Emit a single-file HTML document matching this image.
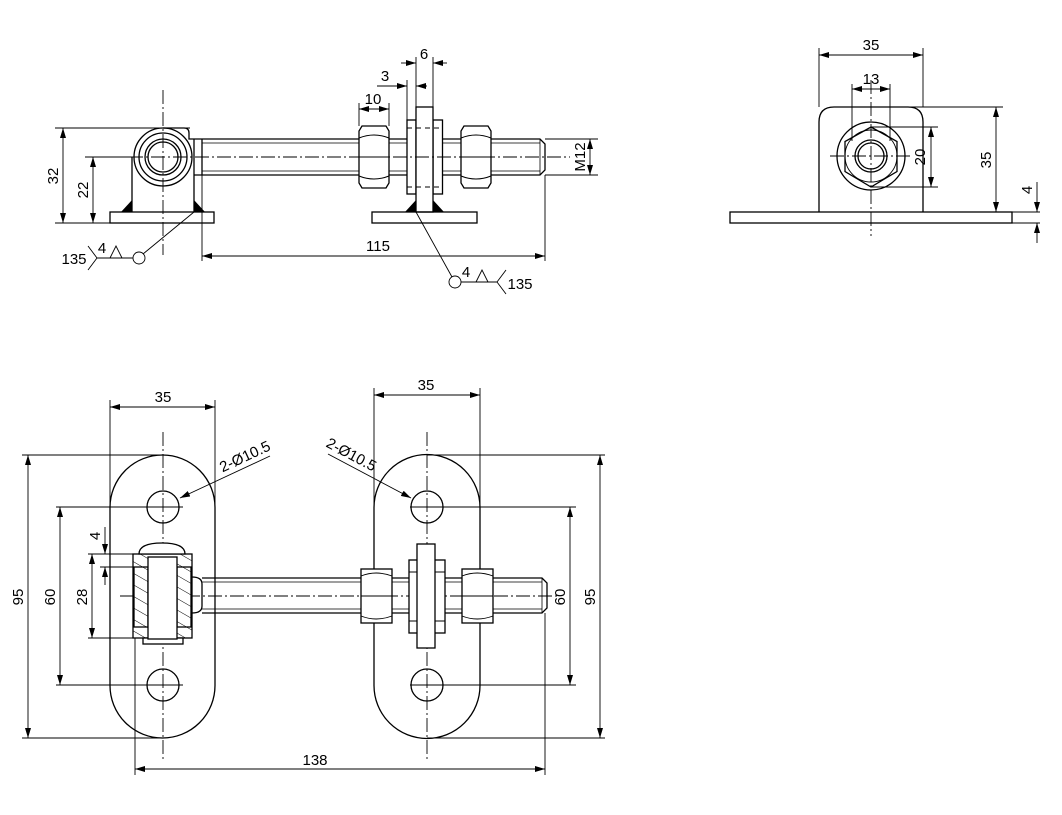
<!DOCTYPE html>
<html><head><meta charset="utf-8"><style>
html,body{margin:0;padding:0;background:#fff}
svg{display:block}
text{font-family:"Liberation Sans Narrow","Liberation Sans",sans-serif;font-size:15px;fill:#000}
</style></head><body>
<svg width="1062" height="815" viewBox="0 0 1062 815" xmlns="http://www.w3.org/2000/svg">
<defs>
<marker id="a" viewBox="0 0 10 6" refX="10" refY="3" markerWidth="10" markerHeight="6" orient="auto-start-reverse" markerUnits="userSpaceOnUse"><path d="M0,0 L10,3 L0,6 z" fill="#000"/></marker>
<pattern id="h" width="10" height="10" patternUnits="userSpaceOnUse" patternTransform="rotate(-60)"><line x1="0" y1="0" x2="0" y2="10" stroke="#000" stroke-width="1"/></pattern>
</defs>
<g fill="none" stroke="#000" stroke-width="1.3">
<rect x="110" y="212" width="104" height="11"/>
<path d="M132,212 V157 M194,212 V139 M163,128 H184 Q189,128 189,133 V139 H194"/>
<circle cx="163" cy="157" r="29"/><circle cx="163" cy="157" r="24"/>
<circle cx="163" cy="157" r="18"/><circle cx="163" cy="157" r="15"/>
<path d="M194,139 H202 M194,175 H202 M202,139 V175"/>
<path d="M202,139 H540 L545,144 V170 L540,175 H202"/>
<path d="M202,143 H540 M202,171 H540" stroke-width="0.8"/>
<line x1="540" y1="139" x2="540" y2="175" stroke-width="0.8"/>
<g fill="#fff">
<path d="M362,126 H386 L389,131 V183 L386,188 H362 L359,183 V131 Z"/>
<path d="M464,126 H488 L491,131 V183 L488,188 H464 L461,183 V131 Z"/>
</g>
<path d="M359,138 Q374,132 389,138 M359,176 Q374,182 389,176 M359,157 H389 M461,138 Q476,132 491,138 M461,176 Q476,182 491,176 M461,157 H491" stroke-width="1"/>
<rect x="407" y="120" width="9" height="74" fill="#fff"/>
<rect x="433" y="120" width="9.5" height="74" fill="#fff"/>
<rect x="416" y="107" width="17" height="105" fill="#fff"/>
<path d="M407,128 H442 M407,187 H442" stroke-dasharray="5,4" stroke-width="1"/>
<rect x="372" y="212" width="105" height="11"/>
<g fill="#000" stroke="none">
<path d="M121,212 L132,200 V212 Z"/><path d="M194,200 L205,212 H194 Z"/>
<path d="M405,212 L416,200 V212 Z"/><path d="M433,200 L444,212 H433 Z"/>
</g>
</g>
<g stroke="#000" stroke-width="0.9" stroke-dasharray="14,3,2,3" fill="none">
<line x1="85" y1="157" x2="570" y2="157"/>
<line x1="163" y1="90" x2="163" y2="255"/>
<line x1="830" y1="156" x2="912" y2="156"/>
<line x1="871" y1="80" x2="871" y2="236"/>
<line x1="163" y1="432" x2="163" y2="760"/>
<line x1="427" y1="432" x2="427" y2="760"/>
<line x1="120" y1="596" x2="560" y2="596"/>
</g>
<g stroke="#000" stroke-width="0.9" fill="none">
<path d="M55,128 H190 M85,157 H135 M55,223 H110"/>
<line x1="63" y1="128" x2="63" y2="223" marker-start="url(#a)" marker-end="url(#a)"/>
<line x1="93" y1="157" x2="93" y2="223" marker-start="url(#a)" marker-end="url(#a)"/>
<path d="M545,139 H598 M545,175 H598"/>
<line x1="590" y1="139" x2="590" y2="175" marker-start="url(#a)" marker-end="url(#a)"/>
<path d="M202,175 V261 M545,175 V261"/>
<line x1="202" y1="256" x2="545" y2="256" marker-start="url(#a)" marker-end="url(#a)"/>
<path d="M359,126 V103 M389,126 V103"/>
<line x1="359" y1="109" x2="389" y2="109" marker-start="url(#a)" marker-end="url(#a)"/>
<path d="M407,120 V80 M416,107 V57 M433,107 V57"/>
<line x1="377" y1="86" x2="407" y2="86" marker-end="url(#a)"/>
<line x1="427" y1="86" x2="416" y2="86" marker-end="url(#a)"/>
<line x1="401" y1="63" x2="416" y2="63" marker-end="url(#a)"/>
<line x1="447" y1="63" x2="433" y2="63" marker-end="url(#a)"/>
<circle cx="139" cy="258" r="6"/>
<path d="M143,254 L194,212 M97,258 H133 M110,258 L116,246 L122,258 M97,258 L88,246 M97,258 L88,270"/>
<circle cx="455" cy="282" r="6"/>
<path d="M452,277 L416,212 M461,282 H497 M476,282 L482,270 L488,282 M497,282 L506,270 M497,282 L506,294"/>
</g>
<g text-anchor="middle">
<text x="378" y="251">115</text>
<text x="373" y="104">10</text>
<text x="385" y="81">3</text>
<text x="424" y="59">6</text>
<text x="74" y="264">135</text>
<text x="102" y="253">4</text>
<text x="520" y="289">135</text>
<text x="466" y="277">4</text>
<text transform="translate(58,176) rotate(-90)">32</text>
<text transform="translate(88,190) rotate(-90)">22</text>
<text transform="translate(585,157) rotate(-90)">M12</text>
</g>
<g fill="none" stroke="#000" stroke-width="1.3">
<rect x="730" y="212" width="282" height="11"/>
<path d="M819,212 V122 Q819,107 834,107 H908 Q923,107 923,122 V212"/>
<circle cx="871" cy="156" r="34"/>
<polygon points="871,127 897,141.5 897,171.5 871,187 845,171.5 845,141.5"/>
<circle cx="871" cy="156" r="26" stroke-width="0.9"/>
<circle cx="871" cy="156" r="16"/><circle cx="871" cy="156" r="13"/>
</g>
<g stroke="#000" stroke-width="0.9" fill="none">
<path d="M819,107 V48 M923,107 V48"/>
<line x1="819" y1="55" x2="923" y2="55" marker-start="url(#a)" marker-end="url(#a)"/>
<path d="M852,141 V84 M890,141 V84"/>
<line x1="852" y1="89" x2="890" y2="89" marker-start="url(#a)" marker-end="url(#a)"/>
<path d="M871,127 H938 M871,187 H938"/>
<line x1="931" y1="127" x2="931" y2="187" marker-start="url(#a)" marker-end="url(#a)"/>
<path d="M908,107 H1003 M1012,212 H1040 M1012,223 H1040"/>
<line x1="996" y1="107" x2="996" y2="212" marker-start="url(#a)" marker-end="url(#a)"/>
<line x1="1037" y1="182" x2="1037" y2="212" marker-end="url(#a)"/>
<line x1="1037" y1="243" x2="1037" y2="223" marker-end="url(#a)"/>
</g>
<g text-anchor="middle">
<text x="871" y="50">35</text>
<text x="871" y="84">13</text>
<text transform="translate(925,157) rotate(-90)">20</text>
<text transform="translate(991,160) rotate(-90)">35</text>
<text transform="translate(1032,190) rotate(-90)">4</text>
</g>
<g fill="none" stroke="#000" stroke-width="1.3">
<path d="M110,507.5 A52.5,52.5 0 0 1 215,507.5 V685.5 A52.5,52.5 0 0 1 110,685.5 Z"/>
<path d="M374,507.5 A53,53 0 0 1 480,507.5 V685.5 A53,53 0 0 1 374,685.5 Z"/>
<circle cx="163" cy="507" r="16"/><circle cx="163" cy="685" r="16"/>
<circle cx="427" cy="507" r="16"/><circle cx="427" cy="685" r="16"/>
<rect x="133" y="554" width="59" height="84" fill="#fff"/>
<rect x="133" y="554" width="15" height="84" fill="url(#h)" stroke="none"/>
<rect x="177" y="554" width="15" height="84" fill="url(#h)" stroke="none"/>
<rect x="134" y="567" width="14" height="60"/>
<rect x="177" y="567" width="14" height="60"/>
<path d="M139,554 Q139,543 162,543 Q185,543 185,554 Z" fill="#fff"/>
<rect x="143" y="638" width="40" height="6" fill="#fff"/>
<rect x="148" y="557" width="29" height="82" fill="#fff"/>
<path d="M192,577 Q202,577 202,584 V606 Q202,613 192,613"/>
<path d="M202,578 H542 L547,583 V608 L542,613 H202"/>
<path d="M202,582 H542 M202,609 H542" stroke-width="0.8"/>
<line x1="542" y1="578" x2="542" y2="613" stroke-width="0.8"/>
<g fill="#fff">
<rect x="361" y="569" width="31" height="54"/>
<rect x="462" y="569" width="31" height="54"/>
<rect x="409" y="560" width="36" height="73"/>
<rect x="417" y="544" width="18" height="104"/>
</g>
<path d="M361,596 H392 M462,596 H493 M361,576 Q376,570 392,576 M361,616 Q376,622 392,616 M462,576 Q477,570 493,576 M462,616 Q477,622 493,616 M409,572 H417 M435,572 H445 M409,621 H417 M435,621 H445" stroke-width="0.9"/>
</g>
<g stroke="#000" stroke-width="0.9" fill="none">
<path d="M110,507 V400 M215,507 V400 M374,507 V388 M480,507 V388"/>
<line x1="110" y1="407" x2="215" y2="407" marker-start="url(#a)" marker-end="url(#a)"/>
<line x1="374" y1="395" x2="480" y2="395" marker-start="url(#a)" marker-end="url(#a)"/>
<path d="M22,455 H163 M22,738 H163 M427,455 H605 M427,738 H605"/>
<line x1="28" y1="455" x2="28" y2="738" marker-start="url(#a)" marker-end="url(#a)"/>
<line x1="600" y1="455" x2="600" y2="738" marker-start="url(#a)" marker-end="url(#a)"/>
<path d="M56,507 H183 M56,685 H183 M410,507 H576 M410,685 H576"/>
<line x1="60" y1="507" x2="60" y2="685" marker-start="url(#a)" marker-end="url(#a)"/>
<line x1="570" y1="507" x2="570" y2="685" marker-start="url(#a)" marker-end="url(#a)"/>
<path d="M88,554 H133 M88,638 H133 M100,567 H148"/>
<line x1="92" y1="554" x2="92" y2="638" marker-start="url(#a)" marker-end="url(#a)"/>
<line x1="105" y1="527" x2="105" y2="554" marker-end="url(#a)"/>
<line x1="105" y1="585" x2="105" y2="567" marker-end="url(#a)"/>
<path d="M135,638 V775 M545,613 V775"/>
<line x1="135" y1="769" x2="545" y2="769" marker-start="url(#a)" marker-end="url(#a)"/>
<line x1="270" y1="456" x2="180" y2="498" marker-end="url(#a)"/>
<line x1="328" y1="454" x2="411" y2="498" marker-end="url(#a)"/>
</g>
<g text-anchor="middle">
<text x="163" y="402">35</text>
<text x="426" y="390">35</text>
<text x="315" y="765">138</text>
<text transform="translate(23,597) rotate(-90)">95</text>
<text transform="translate(55,597) rotate(-90)">60</text>
<text transform="translate(87,597) rotate(-90)">28</text>
<text transform="translate(100,536) rotate(-90)">4</text>
<text transform="translate(565,597) rotate(-90)">60</text>
<text transform="translate(595,597) rotate(-90)">95</text>
<text transform="translate(247,461) rotate(-25)" font-size="13">2-Ø10.5</text>
<text transform="translate(349,459) rotate(28)" font-size="13">2-Ø10.5</text>
</g>
</svg>
</body></html>
